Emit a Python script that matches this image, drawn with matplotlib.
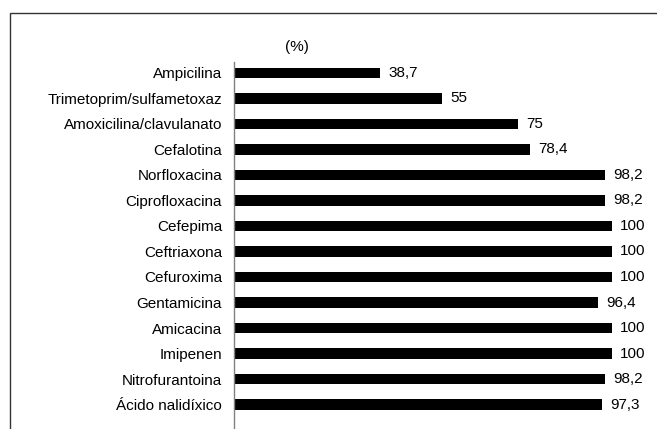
import matplotlib
matplotlib.use("Agg")
import matplotlib.pyplot as plt
from matplotlib.patches import Rectangle

plt.rcParams['font.family'] = ['Liberation Sans', 'DejaVu Sans']

categories = ["Ampicilina", "Trimetoprim/sulfametoxaz", "Amoxicilina/clavulanato",
              "Cefalotina", "Norfloxacina", "Ciprofloxacina", "Cefepima", "Ceftriaxona",
              "Cefuroxima", "Gentamicina", "Amicacina", "Imipenen", "Nitrofurantoina",
              "Ácido nalidíxico"]
values = [38.7, 55, 75, 78.4, 98.2, 98.2, 100, 100, 100, 96.4, 100, 100, 98.2, 97.3]
value_labels = ["38,7", "55", "75", "78,4", "98,2", "98,2", "100", "100", "100",
                "96,4", "100", "100", "98,2", "97,3"]

W, H = 657, 429
fig = plt.figure(figsize=(W/100, H/100), dpi=100)

# outer frame
fig.add_artist(Rectangle((10/W, -0.1), 1.2, (H-13)/H + 0.1, transform=fig.transFigure,
                         fill=False, edgecolor='#333333', linewidth=1.0))

ax_left = 234/W
ax_right = 612/W
ax_top = 1 - 62/H
ax = fig.add_axes([ax_left, 0, ax_right - ax_left, ax_top])

y = list(range(len(categories)))
ax.barh(y, values, height=0.4, color='black')
ax.set_xlim(0, 100)
ax.set_ylim(13.96, -0.43)
ax.set_yticks(y)
ax.set_yticklabels(categories, fontsize=11)
ax.tick_params(axis='y', length=0, pad=8.5)
ax.set_xticks([])
for s in ['top', 'right', 'bottom']:
    ax.spines[s].set_visible(False)
ax.spines['left'].set_color('#808080')
ax.spines['left'].set_linewidth(1.0)

for yi, v, lab in zip(y, values, value_labels):
    ax.annotate(lab, (v, yi), xytext=(6, 0), textcoords='offset points',
                va='center', ha='left', fontsize=11)

fig.text(297/W, 1 - 47/H, "(%)", ha='center', va='center', fontsize=11)

fig.savefig("out.png", dpi=100)
